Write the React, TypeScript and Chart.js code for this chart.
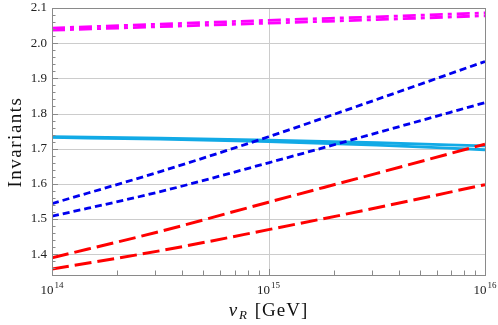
import React, { useEffect, useRef } from "react";
import { Chart, registerables } from "chart.js";

Chart.register(...registerables);

const vR = [1e14, 3.1623e14, 1e15, 3.1623e15, 1e16];
const magentaUpper = [2.043, 2.054, 2.065, 2.075, 2.086];
const magentaLower = [2.037, 2.047, 2.057, 2.067, 2.078];
const blueUpper = [1.544, 1.635, 1.734, 1.840, 1.948];
const blueLower = [1.508, 1.578, 1.660, 1.745, 1.831];
const cyanUpper = [1.734, 1.730, 1.724, 1.717, 1.708];
const cyanLower = [1.732, 1.727, 1.720, 1.710, 1.697];
const redUpper = [1.390, 1.465, 1.548, 1.630, 1.713];
const redLower = [1.358, 1.410, 1.470, 1.532, 1.598];

const yTicks = [1.4, 1.5, 1.6, 1.7, 1.8, 1.9, 2.0, 2.1];
const xDecades = [14, 15, 16];

const SERIF = '"Liberation Serif", "DejaVu Serif", serif';

function pts(ys: number[]) {
  return ys.map((y, i) => ({ x: vR[i], y }));
}

const framePlugin = {
  id: "framePlugin",
  beforeDatasetsDraw(chart: any) {
    const { ctx, chartArea: a, scales } = chart;
    const xs = scales.x;
    const ys = scales.y;
    ctx.save();
    ctx.strokeStyle = "#cccccc";
    ctx.lineWidth = 1;
    yTicks.forEach((v) => {
      const py = Math.round(ys.getPixelForValue(v)) + 0.5;
      ctx.beginPath();
      ctx.moveTo(a.left, py);
      ctx.lineTo(a.right, py);
      ctx.stroke();
    });
    const gx = Math.round(xs.getPixelForValue(1e15)) + 0.5;
    ctx.beginPath();
    ctx.moveTo(gx, a.top);
    ctx.lineTo(gx, a.bottom);
    ctx.stroke();
    ctx.restore();
  },
  afterDraw(chart: any) {
    const { ctx, chartArea: a, scales } = chart;
    const xs = scales.x;
    const ys = scales.y;
    ctx.save();
    ctx.strokeStyle = "#8a8a8a";
    ctx.lineWidth = 1;
    ctx.strokeRect(Math.round(a.left) + 0.5, Math.round(a.top) + 0.5, Math.round(a.right - a.left), Math.round(a.bottom - a.top));
    // y ticks
    for (let k = 0; k <= 40; k++) {
      const v = 1.3 + k * 0.02;
      if (v < ys.min - 1e-9 || v > ys.max + 1e-9) continue;
      const py = Math.round(ys.getPixelForValue(v)) + 0.5;
      const major = k % 5 === 0;
      ctx.beginPath();
      ctx.moveTo(a.left, py);
      ctx.lineTo(a.left + (major ? 6 : 3.5), py);
      ctx.stroke();
    }
    // x ticks
    for (let d = 14; d < 16; d++) {
      for (let m = 1; m <= 9; m++) {
        const v = m * Math.pow(10, d);
        const px = Math.round(xs.getPixelForValue(v)) + 0.5;
        ctx.beginPath();
        ctx.moveTo(px, a.bottom);
        ctx.lineTo(px, a.bottom - (m === 1 ? 6 : 4.5));
        ctx.stroke();
      }
    }
    // y labels
    ctx.fillStyle = "#222222";
    ctx.font = `13px ${SERIF}`;
    ctx.textAlign = "right";
    ctx.textBaseline = "middle";
    yTicks.forEach((v) => {
      ctx.fillText(v.toFixed(1), a.left - 5, ys.getPixelForValue(v));
    });
    // x labels 10^n
    xDecades.forEach((n) => {
      const px = xs.getPixelForValue(Math.pow(10, n));
      ctx.font = `13px ${SERIF}`;
      const w1 = ctx.measureText("10").width;
      ctx.font = `9px ${SERIF}`;
      const w2 = ctx.measureText(String(n)).width;
      const total = w1 + 1 + w2;
      const x0 = px - total / 2;
      ctx.textAlign = "left";
      ctx.textBaseline = "alphabetic";
      ctx.font = `13px ${SERIF}`;
      ctx.fillText("10", x0, a.bottom + 19);
      ctx.font = `9px ${SERIF}`;
      ctx.fillText(String(n), x0 + w1 + 1, a.bottom + 13);
    });
    // x title
    ctx.fillStyle = "#111111";
    (ctx as any).letterSpacing = "1px";
    const cx = (a.left + a.right) / 2;
    ctx.font = `italic 19px ${SERIF}`;
    const wv = ctx.measureText("v").width;
    ctx.font = `italic 13px ${SERIF}`;
    const wr = ctx.measureText("R").width;
    ctx.font = `19px ${SERIF}`;
    const rest = " [GeV]";
    const wrest = ctx.measureText(rest).width;
    let tx = cx - (wv + wr + 2 + wrest) / 2;
    const ty = a.bottom + 41;
    ctx.textAlign = "left";
    ctx.font = `italic 19px ${SERIF}`;
    ctx.fillText("v", tx, ty);
    tx += wv + 1;
    ctx.font = `italic 13px ${SERIF}`;
    ctx.fillText("R", tx, ty + 3);
    tx += wr + 1;
    ctx.font = `19px ${SERIF}`;
    ctx.fillText(rest, tx, ty);
    // y title
    ctx.save();
    ctx.translate(16, 142);
    ctx.rotate(-Math.PI / 2);
    ctx.textAlign = "center";
    ctx.textBaseline = "middle";
    ctx.font = `19px ${SERIF}`;
    (ctx as any).letterSpacing = "1.5px";
    ctx.fillText("Invariants", 0, 0);
    ctx.restore();
    ctx.restore();
  },
};

export default function App() {
  const ref = useRef<HTMLCanvasElement | null>(null);
  useEffect(() => {
    document.body.style.margin = "0";
    if (!ref.current) return;
    const common = {
      pointRadius: 0,
      fill: false,
      cubicInterpolationMode: "monotone" as const,
      borderCapStyle: "butt" as const,
    };
    const chart = new Chart(ref.current, {
      type: "line",
      data: {
        datasets: [
          { ...common, data: pts(redUpper), borderColor: "#ff0000", borderWidth: 3, borderDash: [17, 6] },
          { ...common, data: pts(redLower), borderColor: "#ff0000", borderWidth: 3, borderDash: [17, 6] },
          { ...common, data: pts(blueUpper), borderColor: "#0000ee", borderWidth: 2.8, borderDash: [7, 4] },
          { ...common, data: pts(blueLower), borderColor: "#0000ee", borderWidth: 2.8, borderDash: [7, 4] },
          { ...common, data: pts(cyanUpper), borderColor: "#12aae6", borderWidth: 2.8 },
          { ...common, data: pts(cyanLower), borderColor: "#12aae6", borderWidth: 2.8 },
          { ...common, data: pts(magentaUpper), borderColor: "#ff00ff", borderWidth: 2.8, borderDash: [13, 5, 4, 5] },
          { ...common, data: pts(magentaLower), borderColor: "#ff00ff", borderWidth: 2.8, borderDash: [13, 5, 4, 5] },
        ],
      },
      options: {
        animation: false,
        responsive: false,
        layout: { padding: { left: 52, top: 8, right: 13, bottom: 50 } },
        plugins: { legend: { display: false }, tooltip: { enabled: false } },
        scales: {
          x: { type: "logarithmic", min: 1e14, max: 1e16, display: false },
          y: { type: "linear", min: 1.341, max: 2.1, display: false },
        },
      },
      plugins: [framePlugin],
    });
    return () => chart.destroy();
  }, []);
  return (
    <div style={{ position: "absolute", left: 0, top: 0, width: 498, height: 325, background: "#fff" }}>
      <canvas ref={ref} width={498} height={325} style={{ width: 498, height: 325, display: "block" }} />
    </div>
  );
}
